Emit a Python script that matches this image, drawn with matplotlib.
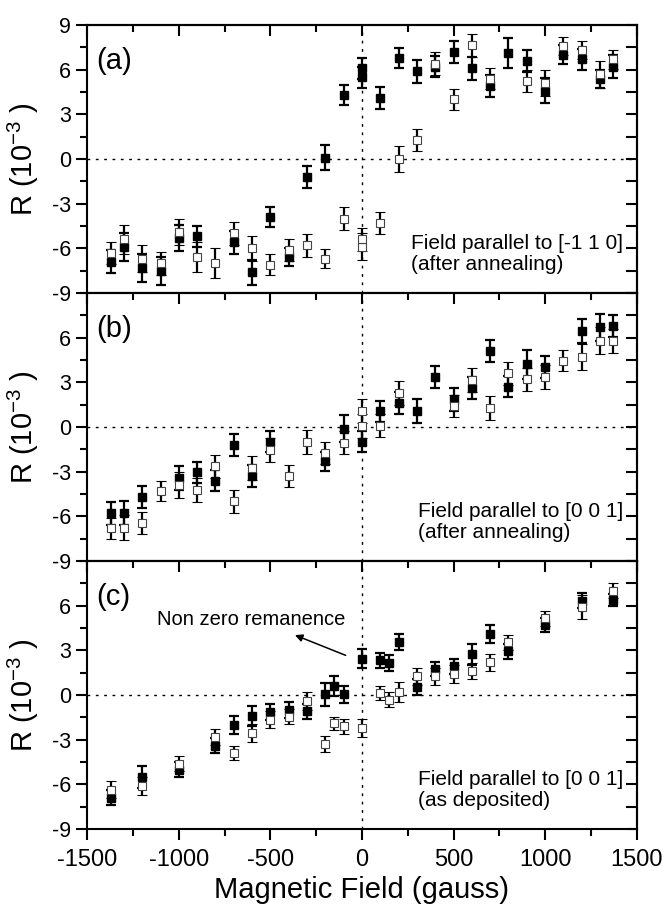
import matplotlib.pyplot as plt
from matplotlib.ticker import MultipleLocator

plt.rcParams['font.family'] = ['Liberation Sans', 'DejaVu Sans']
plt.rcParams['axes.unicode_minus'] = False
plt.rcParams['mathtext.default'] = 'regular'

# Panel (a): field parallel to [-1 1 0], after annealing
a_fx = [-1370, -1300, -1200, -1100, -1000, -900, -700, -600, -500, -400, -300, -200, -100, 0, 0,
        100, 200, 300, 400, 500, 600, 700, 800, 900, 1000, 1100, 1200, 1300, 1370]
a_fy = [-6.9, -5.9, -7.3, -7.5, -5.3, -5.2, -5.6, -7.6, -3.9, -6.6, -1.2, 0.1, 4.3, 6.1, 5.5,
        4.1, 6.8, 5.9, 6.2, 7.2, 6.1, 4.9, 7.1, 6.6, 4.6, 7.0, 6.7, 5.4, 6.2]
a_fe = [0.78, 0.95, 0.95, 0.95, 0.85, 0.7, 0.75, 0.85, 0.67, 0.6, 0.73, 0.83, 0.7, 0.7, 0.7,
        0.76, 0.67, 0.78, 0.7, 0.73, 0.78, 0.73, 1.0, 0.73, 0.87, 0.64, 0.7, 0.6, 0.78]
a_ox = [-1370, -1300, -1200, -1100, -1000, -900, -800, -700, -600, -500, -400, -300, -200, -100, 0, 0,
        100, 200, 300, 400, 500, 600, 700, 900, 1000, 1100, 1200, 1300, 1370]
a_oy = [-6.3, -5.4, -6.7, -7.0, -4.9, -6.6, -7.0, -5.0, -6.0, -7.1, -6.1, -5.8, -6.7, -4.0, -5.9, -5.4,
        -4.3, 0.0, 1.3, 6.4, 4.0, 7.65, 5.4, 5.25, 5.1, 7.6, 7.3, 5.7, 6.7]
a_oe = [0.73, 0.95, 0.9, 0.78, 0.86, 1.0, 1.0, 0.8, 0.86, 0.72, 0.75, 0.78, 0.65, 0.75, 0.9, 0.8,
        0.73, 0.86, 0.73, 0.78, 0.7, 0.78, 0.7, 0.75, 0.87, 0.6, 0.6, 0.9, 0.65]

# Panel (b): field parallel to [0 0 1], after annealing
b_fx = [-1370, -1300, -1200, -1000, -900, -800, -700, -600, -500, -200, -100, 0,
        100, 200, 300, 400, 500, 600, 700, 800, 900, 1000, 1200, 1300, 1370]
b_fy = [-5.8, -5.75, -4.7, -3.4, -3.05, -3.6, -1.2, -3.3, -1.0, -2.3, -0.1, -1.0,
        1.05, 1.6, 1.05, 3.35, 1.85, 2.6, 5.1, 2.7, 4.2, 4.05, 6.45, 6.7, 6.8]
b_fe = [0.75, 0.8, 0.75, 0.8, 0.7, 0.7, 0.75, 0.75, 0.7, 0.65, 0.9, 0.7,
        0.7, 0.75, 0.8, 0.75, 0.75, 0.75, 0.75, 0.7, 0.95, 0.75, 0.8, 0.9, 0.75]
b_ox = [-1370, -1300, -1200, -1100, -1000, -900, -800, -700, -600, -500, -400, -300, -200, -100, 0, 0,
        100, 200, 500, 600, 700, 800, 900, 1000, 1100, 1200, 1300, 1370]
b_oy = [-6.8, -6.75, -6.45, -4.3, -3.9, -4.25, -2.65, -5.0, -2.75, -1.55, -3.3, -1.0, -1.75, -1.05, 1.05, 0.05,
        0.1, 2.3, 1.4, 3.15, 1.3, 3.6, 3.2, 3.35, 4.45, 4.7, 5.8, 5.8]
b_oe = [0.7, 0.85, 0.75, 0.7, 0.85, 0.8, 0.75, 0.75, 0.8, 0.8, 0.75, 0.8, 0.75, 0.75, 0.8, 0.8,
        0.8, 0.8, 0.75, 0.8, 0.8, 0.75, 0.75, 0.8, 0.7, 0.85, 0.9, 0.8]

# Panel (c): field parallel to [0 0 1], as deposited
c_fx = [-1370, -1200, -1000, -800, -700, -600, -500, -400, -300, -200, -150, -100, 0,
        100, 150, 200, 300, 400, 500, 600, 700, 800, 1000, 1200, 1370]
c_fy = [-6.9, -5.5, -5.0, -3.4, -2.0, -1.4, -1.15, -1.0, -1.1, 0.05, 0.6, 0.05, 2.45,
        2.35, 2.15, 3.55, 0.55, 1.75, 1.95, 2.75, 4.1, 2.95, 4.7, 6.35, 6.4]
c_fe = [0.5, 0.75, 0.5, 0.5, 0.6, 0.7, 0.55, 0.55, 0.5, 0.75, 0.65, 0.55, 0.65,
        0.5, 0.55, 0.55, 0.55, 0.5, 0.5, 0.7, 0.6, 0.5, 0.45, 0.5, 0.4]
c_ox = [-1370, -1200, -1000, -800, -700, -600, -500, -400, -300, -200, -150, -100, 0,
        100, 150, 200, 300, 400, 500, 600, 700, 800, 1000, 1200, 1370]
c_oy = [-6.35, -6.1, -4.6, -2.8, -3.9, -2.55, -1.65, -1.45, -0.4, -3.3, -1.9, -2.1, -2.2,
        0.15, -0.3, 0.2, 1.25, 1.25, 1.4, 1.6, 2.2, 3.55, 5.15, 5.9, 7.0]
c_oe = [0.55, 0.6, 0.5, 0.55, 0.45, 0.6, 0.55, 0.5, 0.6, 0.55, 0.45, 0.5, 0.6,
        0.45, 0.5, 0.65, 0.55, 0.6, 0.6, 0.55, 0.55, 0.5, 0.5, 0.8, 0.5]

panel_labels = ['(a)', '(b)', '(c)']
notes = ['Field parallel to [-1 1 0]\n(after annealing)',
         'Field parallel to [0 0 1]\n(after annealing)',
         'Field parallel to [0 0 1]\n(as deposited)']

fig = plt.figure(figsize=(6.66, 9.1), dpi=100)
left, width, height = 0.131, 0.825, 0.2945
bottoms = [0.678, 0.3835, 0.0889]
axes = [fig.add_axes([left, b, width, height]) for b in bottoms]

datasets = [(a_fx, a_fy, a_fe, a_ox, a_oy, a_oe),
            (b_fx, b_fy, b_fe, b_ox, b_oy, b_oe),
            (c_fx, c_fy, c_fe, c_ox, c_oy, c_oe)]

for i, ax in enumerate(axes):
    fx, fy, fe, ox, oy, oe = datasets[i]
    ax.axhline(0, color='black', lw=1.0, ls=(0, (2, 4)), zorder=1)
    ax.axvline(0, color='black', lw=1.0, ls=(0, (2, 4)), zorder=1, clip_on=False)
    ax.errorbar(fx, fy, yerr=fe, fmt='s', color='black', ms=5.8, mfc='black', mec='black',
                elinewidth=1.6, capsize=3.3, capthick=1.6, zorder=3)
    ax.errorbar(ox, oy, yerr=oe, fmt='s', color='black', ms=5.3, mfc='white', mec='#444444',
                mew=0.8, elinewidth=1.6, capsize=3.3, capthick=1.6, zorder=4)

    ax.set_xlim(-1500, 1500)
    ax.set_ylim(-9, 9)
    ax.xaxis.set_major_locator(MultipleLocator(500))
    ax.xaxis.set_minor_locator(MultipleLocator(250))
    ax.yaxis.set_minor_locator(MultipleLocator(1.5))
    if i == 0:
        ax.set_yticks([-9, -6, -3, 0, 3, 6, 9])
    else:
        ax.set_yticks([-9, -6, -3, 0, 3, 6])

    for s in ax.spines.values():
        s.set_linewidth(1.5)
    ax.tick_params(axis='both', which='both', width=1.5)
    ax.tick_params(axis='x', which='major', length=8)
    ax.tick_params(axis='x', which='minor', length=5)
    ax.tick_params(axis='y', which='major', length=8, labelsize=15.5, direction='out')
    ax.tick_params(axis='y', which='minor', length=5, direction='out')
    ax.tick_params(axis='x', labelsize=17, direction='out', pad=6)
    ax.tick_params(axis='x', which='both', top=False, labelbottom=(i == 2))

    # inward ticks on the top and right sides
    sec_x = ax.secondary_xaxis('top')
    sec_x.xaxis.set_major_locator(MultipleLocator(500))
    sec_x.xaxis.set_minor_locator(MultipleLocator(250))
    sec_x.tick_params(which='both', direction='in', width=1.5, labeltop=False)
    sec_x.tick_params(which='major', length=8)
    sec_x.tick_params(which='minor', length=5)
    sec_x.spines['top'].set_linewidth(1.5)
    sec_y = ax.secondary_yaxis('right')
    sec_y.yaxis.set_major_locator(MultipleLocator(3))
    sec_y.yaxis.set_minor_locator(MultipleLocator(1.5))
    sec_y.tick_params(which='both', direction='in', width=1.5, labelright=False)
    sec_y.tick_params(which='major', length=8)
    sec_y.tick_params(which='minor', length=8)
    sec_y.spines['right'].set_linewidth(1.5)

    ax.set_ylabel('R (10$^{-3}$ )', fontsize=21)
    ax.yaxis.set_label_coords(-0.085, 0.5)

    ax.text(0.017, 0.865, panel_labels[i], transform=ax.transAxes, fontsize=21,
            ha='left', va='center')
    ax.text(0.975, 0.07, notes[i], transform=ax.transAxes, fontsize=15,
            ha='right', va='bottom', multialignment='left', linespacing=1.15)

axes[2].set_xlabel('Magnetic Field (gauss)', fontsize=21, labelpad=4)

axes[2].text(-605, 5.05, 'Non zero remanence', fontsize=14.5, ha='center', va='center')
axes[2].annotate('', xy=(-380, 4.1), xytext=(-75, 2.6),
                 arrowprops=dict(arrowstyle='-|>', color='black', lw=1.1, mutation_scale=11))

fig.savefig('out.png', dpi=100)
